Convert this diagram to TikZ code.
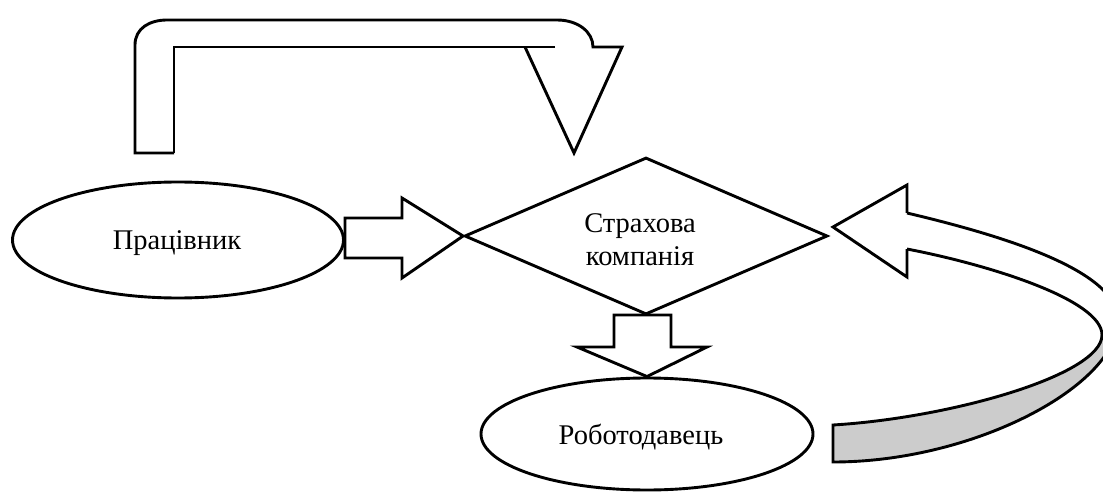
\documentclass[tikz,border=0pt]{standalone}
\usepackage{fontspec}
\setmainfont{Liberation Serif}
\usetikzlibrary{shapes.geometric}
\begin{document}
\begin{tikzpicture}[x=1pt,y=-1pt,
  outl/.style={draw=black,line width=2.9pt,line join=miter},
  lbl/.style={font=\fontsize{28.5}{33}\selectfont,align=center,inner sep=0pt},
  ell/.style={outl,ellipse,inner sep=0pt}]
\clip (0,0) rectangle (1103,497);
\fill[white] (0,0) rectangle (1103,497);
% nodes
\node[ell,minimum width=331pt,minimum height=116pt] (worker) at (178,240) {};
\node[lbl] (workertxt) at (177,243) {Працівник};
\node[outl,diamond,minimum width=363pt,minimum height=157pt,inner sep=0pt] (ins) at (646,236) {};
\node[lbl] (instxt) at (640,240) {Страхова\\компанія};
\node[ell,minimum width=332pt,minimum height=112pt] (emp) at (647,434) {};
\node[lbl] (emptxt) at (641,437) {Роботодавець};
% top bent arrow
\draw[outl,fill=white] (174,153) -- (135,153) -- (135,45)
  .. controls (135,28) and (150,20) .. (167,20) -- (557,20)
  .. controls (578,20) and (593,32) .. (593,47) -- (622,47) -- (574,153) -- (525,47);
\draw[outl] (555,47) -- (174,47) -- (174,153);
% right block arrow worker -> insurance
\draw[outl,fill=white] (worker.east |- 0,218) -- (402,218) -- (402,198) -- (ins.west) -- (402,278) -- (402,258) -- (worker.east |- 0,258) -- cycle;
% down block arrow insurance -> employer
\draw[outl,fill=white] (614,315) -- (614,347) -- (577,347) -- (emp.north) -- (707,347) -- (671,347) -- (671,315) -- cycle;
% curved arrow employer -> insurance
\fill[black!20] (833,425) -- (833,462)
  .. controls (975,462) and (1118,385) .. (1118,320)
  -- (1102,335) .. controls (1102,375) and (950,418) .. (833,425) -- cycle;
\draw[outl] (907,213) .. controls (1000,235) and (1118,270) .. (1118,320)
  .. controls (1118,385) and (975,462) .. (833,462) -- (833,425)
  .. controls (950,418) and (1102,375) .. (1102,335)
  .. controls (1102,300) and (990,265) .. (907,249);
\draw[outl] (907,213) -- (907,185) -- (833,227) -- (907,277) -- (907,249);
\end{tikzpicture}
\end{document}
